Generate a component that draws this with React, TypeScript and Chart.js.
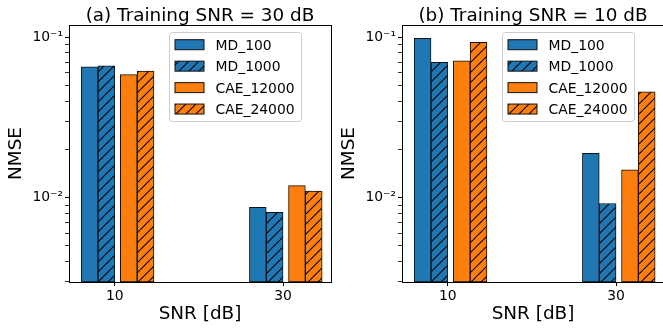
import React, { useEffect, useRef } from 'react';
import { Chart, registerables } from 'chart.js';

Chart.register(...registerables);

const FONT = "'DejaVu Sans', sans-serif";

// ---- data ----
const SNR_DB = [10, 30];
const SERIES_NAMES = ['MD_100', 'MD_1000', 'CAE_12000', 'CAE_24000'];
const SERIES_COLORS = ['#1f77b4', '#1f77b4', '#ff7f0e', '#ff7f0e'];
const SERIES_HATCHED = [false, true, false, true];
const BAR_OFFSETS = [-3, -1, 1.65, 3.65];

// (a) Training SNR = 30 dB
const A_MD_100 = [0.0656, 0.0087];
const A_MD_1000 = [0.0665, 0.0081];
const A_CAE_12000 = [0.0585, 0.0119];
const A_CAE_24000 = [0.0616, 0.011];

// (b) Training SNR = 10 dB
const B_MD_100 = [0.0986, 0.0189];
const B_MD_1000 = [0.0698, 0.0092];
const B_CAE_12000 = [0.0715, 0.0149];
const B_CAE_24000 = [0.0931, 0.0458];

const X_TICKS = [10, 30];
const Y_TICKS = [
  0.003, 0.004, 0.005, 0.006, 0.007, 0.008, 0.009,
  0.01, 0.02, 0.03, 0.04, 0.05, 0.06, 0.07, 0.08, 0.09,
  0.1,
];
const Y_TICK_LABELS: Record<string, string> = { '0.1': '10⁻¹', '0.01': '10⁻²' };

const X_MIN = 4.55;
const X_MAX = 35.7;
const Y_MIN = 0.00298;
const Y_MAX = 0.1194;

function hatchPattern(color: string): CanvasPattern | string {
  const s = 10;
  const c = document.createElement('canvas');
  c.width = s;
  c.height = s;
  const g = c.getContext('2d');
  if (!g) return color;
  g.fillStyle = color;
  g.fillRect(0, 0, s, s);
  g.strokeStyle = '#000';
  g.lineWidth = 1.1;
  g.beginPath();
  for (const k of [-1, 0, 1]) {
    g.moveTo(k * s, s);
    g.lineTo(k * s + s, 0);
  }
  g.stroke();
  return g.createPattern(c, 'repeat') || color;
}

function decorPlugin(title: string) {
  return {
    id: 'decor',
    afterDraw(chart: any) {
      const { ctx, chartArea: a } = chart;
      ctx.save();
      // top and right spines
      ctx.strokeStyle = '#000';
      ctx.lineWidth = 1;
      ctx.beginPath();
      ctx.moveTo(a.left, Math.round(a.top) + 0.5);
      ctx.lineTo(Math.round(a.right) + 1, Math.round(a.top) + 0.5);
      ctx.moveTo(Math.round(a.right) + 0.5, a.top);
      ctx.lineTo(Math.round(a.right) + 0.5, a.bottom + 1);
      ctx.stroke();

      // title
      ctx.fillStyle = '#000';
      ctx.font = `18.4px ${FONT}`;
      ctx.textAlign = 'center';
      ctx.textBaseline = 'alphabetic';
      ctx.fillText(title, (a.left + a.right) / 2, 20.5);

      // legend
      const fs = 13.9;
      ctx.font = `${fs}px ${FONT}`;
      const ds = chart.data.datasets;
      let maxW = 0;
      ds.forEach((d: any) => {
        maxW = Math.max(maxW, ctx.measureText(d.label).width);
      });
      const w = 46 + maxW + 7;
      const h = 89;
      const x0 = Math.round(a.right - 30 - w) + 0.5;
      const y0 = Math.round(a.top + 7) + 0.5;
      ctx.beginPath();
      const r = 3;
      ctx.moveTo(x0 + r, y0);
      ctx.lineTo(x0 + w - r, y0);
      ctx.arcTo(x0 + w, y0, x0 + w, y0 + r, r);
      ctx.lineTo(x0 + w, y0 + h - r);
      ctx.arcTo(x0 + w, y0 + h, x0 + w - r, y0 + h, r);
      ctx.lineTo(x0 + r, y0 + h);
      ctx.arcTo(x0, y0 + h, x0, y0 + h - r, r);
      ctx.lineTo(x0, y0 + r);
      ctx.arcTo(x0, y0, x0 + r, y0, r);
      ctx.closePath();
      ctx.fillStyle = 'rgba(255,255,255,0.8)';
      ctx.fill();
      ctx.strokeStyle = '#cccccc';
      ctx.lineWidth = 1;
      ctx.stroke();

      ds.forEach((d: any, i: number) => {
        const cy = y0 + 12.2 + i * 21.45;
        ctx.fillStyle = d.backgroundColor;
        ctx.fillRect(x0 + 5.5, cy - 5, 29, 10);
        ctx.strokeStyle = d.borderColor;
        ctx.lineWidth = 1;
        ctx.strokeRect(x0 + 5.5, cy - 5, 29, 10);
        ctx.fillStyle = '#000';
        ctx.textAlign = 'left';
        ctx.textBaseline = 'alphabetic';
        ctx.fillText(d.label, x0 + 46, cy + 5);
      });
      ctx.restore();
    },
  };
}

function Panel({ left, title, series }: { left: number; title: string; series: number[][] }) {
  const ref = useRef<HTMLCanvasElement>(null);
  useEffect(() => {
    if (!ref.current) return;
    const datasets = series.map((vals, si) => ({
      label: SERIES_NAMES[si],
      data: SNR_DB.map((snr, i) => ({ x: snr + BAR_OFFSETS[si], y: vals[i] })),
      backgroundColor: SERIES_HATCHED[si] ? hatchPattern(SERIES_COLORS[si]) : SERIES_COLORS[si],
      borderColor: '#111',
      borderWidth: 1,
      borderSkipped: false,
      grouped: false,
      barThickness: 16.8,
    }));
    const tickFont = { family: FONT, size: 13.9, lineHeight: 1.2 };
    const chart = new Chart(ref.current, {
      type: 'bar',
      data: { datasets: datasets as any },
      options: {
        animation: false,
        responsive: false,
        events: [],
        layout: { padding: { top: 25, right: 1, bottom: 0, left: 0 } },
        plugins: { legend: { display: false }, tooltip: { enabled: false }, title: { display: false } },
        scales: {
          x: {
            type: 'linear',
            min: X_MIN,
            max: X_MAX,
            offset: false,
            afterFit: (s: any) => {
              s.height = 46;
            },
            afterBuildTicks: (s: any) => {
              s.ticks = X_TICKS.map((v) => ({ value: v }));
            },
            ticks: {
              autoSkip: false,
              maxRotation: 0,
              padding: 1.6,
              color: '#000',
              font: tickFont,
              callback: (v: any) => String(v),
            },
            grid: { offset: false, drawOnChartArea: false, drawTicks: true, tickLength: 4, tickColor: '#000' },
            border: { display: true, color: '#000', width: 1 },
            title: {
              display: true,
              text: 'SNR [dB]',
              color: '#000',
              font: { family: FONT, size: 18.4, lineHeight: 1.2 },
              padding: { top: 0, bottom: 2.5 },
            },
          },
          y: {
            type: 'logarithmic',
            min: Y_MIN,
            max: Y_MAX,
            afterFit: (s: any) => {
              s.width = 69;
            },
            afterBuildTicks: (s: any) => {
              s.ticks = Y_TICKS.map((v) => ({ value: v, major: Y_TICK_LABELS[String(v)] !== undefined }));
            },
            ticks: {
              autoSkip: false,
              padding: 2,
              color: '#000',
              font: tickFont,
              callback: (v: any) => Y_TICK_LABELS[String(v)] ?? '',
            },
            grid: {
              drawOnChartArea: false,
              drawTicks: true,
              tickLength: 4,
              tickColor: '#000',
              tickWidth: (ctx: any) => (ctx.tick && ctx.tick.major ? 1.1 : 0.8),
            },
            border: { display: true, color: '#000', width: 1 },
            title: {
              display: true,
              text: 'NMSE',
              color: '#000',
              font: { family: FONT, size: 18.4, lineHeight: 1.2 },
              padding: { top: 5.2, bottom: 0 },
            },
          },
        },
      } as any,
      plugins: [decorPlugin(title)],
    });
    return () => chart.destroy();
  }, []);
  return (
    <canvas
      ref={ref}
      width={332}
      height={328}
      style={{ position: 'absolute', left, top: 0, width: 332, height: 328 }}
    />
  );
}

export default function App() {
  return (
    <div
      style={{
        position: 'absolute',
        left: 0,
        top: 0,
        width: 663,
        height: 328,
        overflow: 'hidden',
        background: '#fff',
      }}
    >
      <Panel
        left={0}
        title="(a) Training SNR = 30 dB"
        series={[A_MD_100, A_MD_1000, A_CAE_12000, A_CAE_24000]}
      />
      <Panel
        left={333}
        title="(b) Training SNR = 10 dB"
        series={[B_MD_100, B_MD_1000, B_CAE_12000, B_CAE_24000]}
      />
    </div>
  );
}
